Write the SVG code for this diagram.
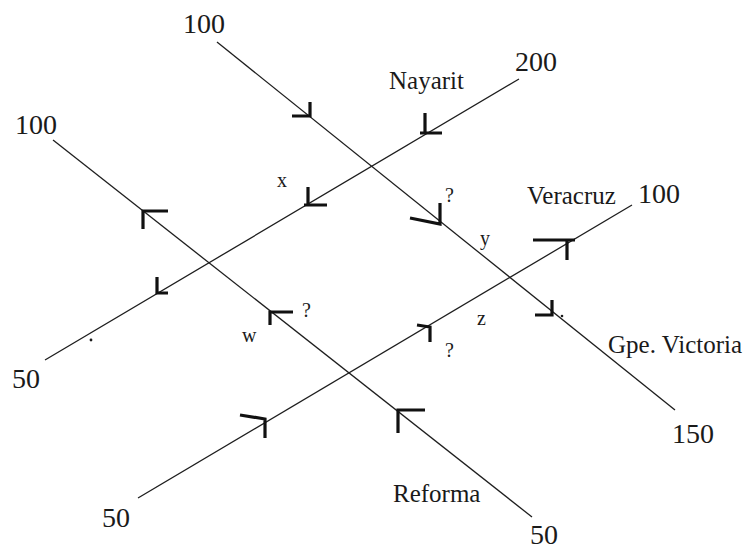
<svg xmlns="http://www.w3.org/2000/svg" width="747" height="550" viewBox="0 0 747 550">
<style>
.st{stroke:#1e1e1e;stroke-width:1.3;fill:none}
.ah{stroke:#111;stroke-width:3.2;fill:none;stroke-linecap:butt;stroke-linejoin:miter}
text{font-family:"Liberation Serif","Times New Roman",serif;fill:#1a1a1a}
.num{font-size:28px}
.name{font-size:25px}
.var{font-size:20px}
</style>
<rect width="747" height="550" fill="#ffffff"/>
<g id="connectors">
<line id="street-nayarit" class="st" x1="519" y1="79" x2="45" y2="360"/>
<line id="street-gpe-victoria" class="st" x1="217" y1="42" x2="675" y2="410"/>
<line id="street-reforma" class="st" x1="53" y1="140" x2="532" y2="517"/>
<line id="street-veracruz" class="st" x1="138" y1="498" x2="632" y2="205"/>
<g id="arrowheads">
<path class="ah" d="M310,102 V116 H292"/>
<path class="ah" d="M425,113 V133 M420,133 H442"/>
<path class="ah" d="M308,187 V205 M304,205 H327"/>
<path class="ah" d="M168,211 H143 V229"/>
<path class="ah" d="M440,203 V224 L410,218"/>
<path class="ah" d="M157,277 V293 H168"/>
<path class="ah" d="M293,312 H270 V325"/>
<path class="ah" d="M240,415 L265,419 V438"/>
<path class="ah" d="M417,325 L430,327 V342"/>
<path class="ah" d="M533,240 H575 M567,240 V260"/>
<path class="ah" d="M552,300 V315 H535"/>
<path class="ah" d="M425,410 H398 V433"/>
</g>
</g>
<g id="node-nayarit">
<text class="num" x="515" y="71">200</text>
<text class="name" x="389" y="89">Nayarit</text>
<text class="num" x="12" y="388">50</text>
<circle cx="91" cy="340" r="1.4" fill="#1a1a1a"/>
</g>
<g id="node-gpe-victoria">
<text class="num" x="183" y="33">100</text>
<text class="name" x="608" y="353">Gpe. Victoria</text>
<text class="num" x="672" y="443">150</text>
<circle cx="562" cy="316" r="1.3" fill="#1a1a1a"/>
</g>
<g id="node-reforma">
<text class="num" x="15" y="134">100</text>
<text class="name" x="393" y="502">Reforma</text>
<text class="num" x="530" y="544">50</text>
</g>
<g id="node-veracruz">
<text class="num" x="102" y="527">50</text>
<text class="name" x="527" y="204">Veracruz</text>
<text class="num" x="638" y="203">100</text>
</g>
<g id="node-unknowns">
<text class="var" x="277" y="187">x</text>
<text class="var" x="480" y="245">y</text>
<text class="var" x="477" y="325">z</text>
<text class="var" x="242" y="342">w</text>
<text class="var" x="445" y="202">?</text>
<text class="var" x="302" y="317">?</text>
<text class="var" x="445" y="357">?</text>
</g>
</svg>
